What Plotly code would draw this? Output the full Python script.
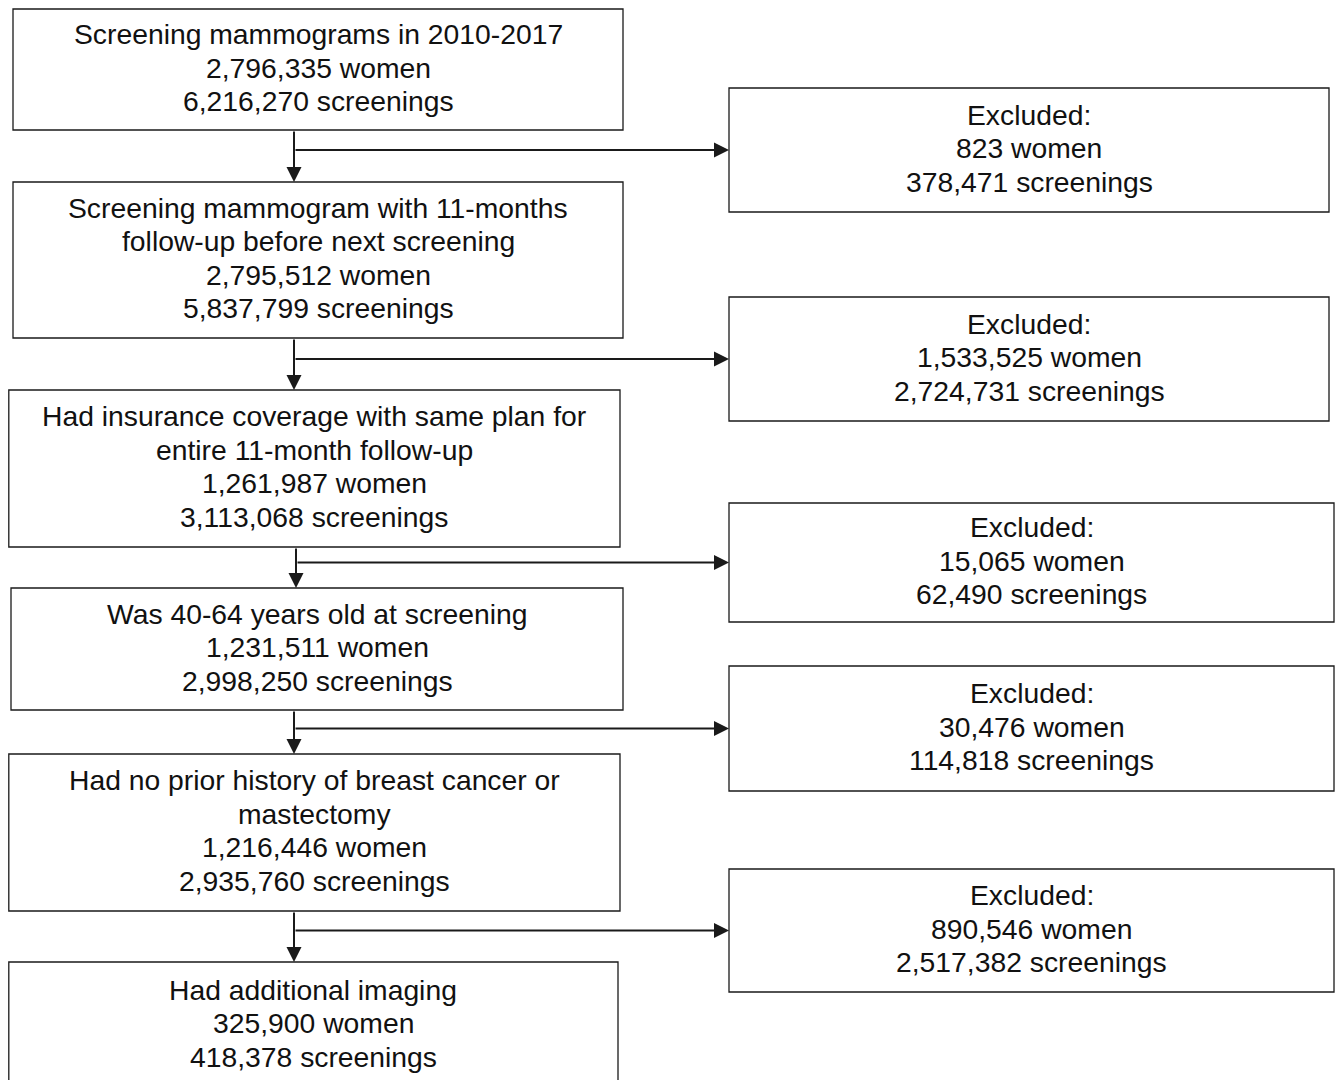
import plotly.graph_objects as go

# ---------------- data ----------------
stage_labels = [
    ["Screening mammograms in 2010-2017"],
    ["Screening mammogram with 11-months", "follow-up before next screening"],
    ["Had insurance coverage with same plan for", "entire 11-month follow-up"],
    ["Was 40-64 years old at screening"],
    ["Had no prior history of breast cancer or", "mastectomy"],
    ["Had additional imaging"],
]
stage_women = [2796335, 2795512, 1261987, 1231511, 1216446, 325900]
stage_screenings = [6216270, 5837799, 3113068, 2998250, 2935760, 418378]

excluded_label = "Excluded:"
excluded_women = [823, 1533525, 15065, 30476, 890546]
excluded_screenings = [378471, 2724731, 62490, 114818, 2517382]

# ---------------- layout geometry (pixels) ----------------
W, H = 1344, 1080
OFF = 8  # page body margin
left_boxes = [  # x0, x1, y0, y1
    (13, 623, 9, 130),
    (13, 623, 182, 338),
    (8.8, 620, 390, 547),
    (11, 623, 588, 710),
    (8.8, 620, 754, 911),
    (8.8, 618, 962, 1090),
]
right_boxes = [
    (729, 1329, 88, 212),
    (729, 1329, 297, 421),
    (729, 1334, 503, 622),
    (729, 1334, 666, 791),
    (729, 1334, 869, 992),
]
arrow_x = [294, 294, 296, 294, 294]
LINE_GAP = 33.5
FONT = dict(family="Liberation Sans, Arial, sans-serif", size=28.3, color="#111111")
LINE_COLOR = "#1a1a1a"


def fmt(n):
    return f"{n:,}"


fig = go.Figure()
shapes = []
annotations = []


def add_box(box, lines, cy_shift=-2):
    x0, x1, y0, y1 = box
    shapes.append(dict(type="rect", xref="x", yref="y", x0=x0, x1=x1, y0=y0, y1=y1,
                       line=dict(color=LINE_COLOR, width=1.3), fillcolor="white", layer="below"))
    cx = (x0 + x1) / 2
    cy = (y0 + y1) / 2 + cy_shift
    n = len(lines)
    for i, t in enumerate(lines):
        annotations.append(dict(x=cx, y=cy + (i - (n - 1) / 2) * LINE_GAP, xref="x", yref="y",
                                text=t, showarrow=False, font=FONT,
                                xanchor="center", yanchor="middle"))


for k, (box, lab, w, s) in enumerate(zip(left_boxes, stage_labels, stage_women, stage_screenings)):
    shift = -2 if k < len(left_boxes) - 1 else -3
    add_box(box, lab + [f"{fmt(w)} women", f"{fmt(s)} screenings"], shift)

for box, w, s in zip(right_boxes, excluded_women, excluded_screenings):
    add_box(box, [excluded_label, f"{fmt(w)} women", f"{fmt(s)} screenings"])

# arrows
for i in range(len(left_boxes) - 1):
    ax = arrow_x[i]
    top = left_boxes[i][3]
    nxt = left_boxes[i + 1][2]
    annotations.append(dict(x=ax, y=nxt, ax=ax, ay=top, xref="x", yref="y", axref="x", ayref="y",
                            text="", showarrow=True, arrowhead=2, arrowsize=1.5,
                            arrowwidth=2, arrowcolor=LINE_COLOR, standoff=0, startstandoff=0))
    rb = right_boxes[i]
    hy = (rb[2] + rb[3]) / 2
    annotations.append(dict(x=rb[0], y=hy, ax=ax, ay=hy, xref="x", yref="y", axref="x", ayref="y",
                            text="", showarrow=True, arrowhead=2, arrowsize=1.5,
                            arrowwidth=2, arrowcolor=LINE_COLOR, standoff=0, startstandoff=0))

fig.update_layout(
    width=W - 2 * OFF, height=H - OFF,
    margin=dict(l=0, r=0, t=0, b=0),
    paper_bgcolor="white", plot_bgcolor="white",
    xaxis=dict(range=[OFF, W - OFF], visible=False, fixedrange=True),
    yaxis=dict(range=[H, OFF], visible=False, fixedrange=True),
    shapes=shapes, annotations=annotations, showlegend=False,
)

fig.write_html("out.html")
